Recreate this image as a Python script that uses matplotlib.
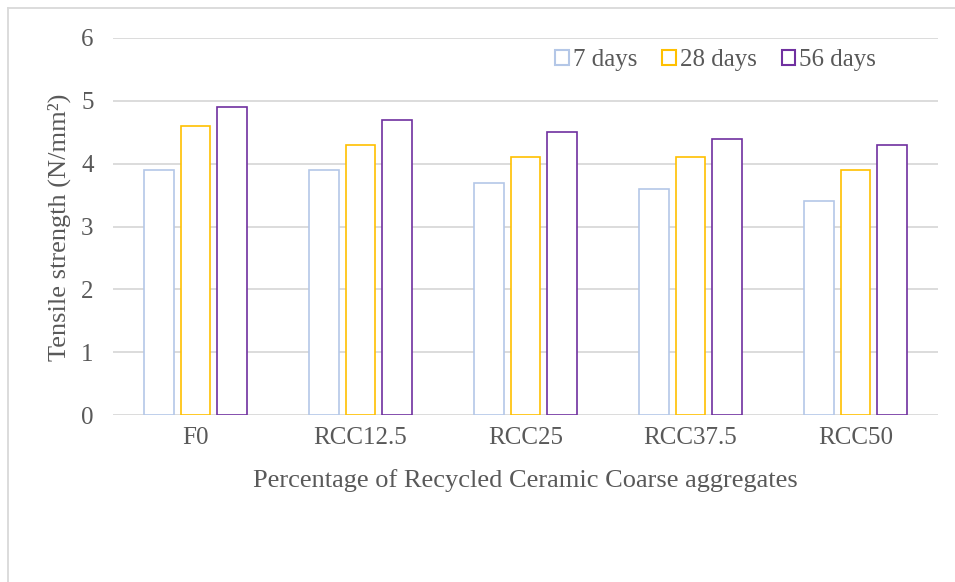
import numpy as np
import matplotlib
matplotlib.use('Agg')
import matplotlib.pyplot as plt
from matplotlib.lines import Line2D

# Chart data
categories = ['F0', 'RCC12.5', 'RCC25', 'RCC37.5', 'RCC50']
series_names = ['7 days', '28 days', '56 days']
days_7 = [3.9, 3.9, 3.7, 3.6, 3.4]
days_28 = [4.6, 4.3, 4.1, 4.1, 3.9]
days_56 = [4.9, 4.7, 4.5, 4.4, 4.3]
y_ticks = [0, 1, 2, 3, 4, 5, 6]

colors = ['#B4C7E7', '#FFC000', '#7030A0']
text_color = '#595959'
grid_color = '#D9D9D9'

plt.rcParams['font.family'] = ['Liberation Serif', 'DejaVu Serif']

fig = plt.figure(figsize=(9.55, 5.82), dpi=100)
ax = fig.add_axes([113 / 955, 1 - 415 / 582, 825 / 955, 377 / 582])

x = np.arange(len(categories))
width = 0.18
pitch = 0.221
for i, (vals, name, c) in enumerate(zip([days_7, days_28, days_56], series_names, colors)):
    ax.bar(x + (i - 1) * pitch, vals, width, facecolor='white', edgecolor=c,
           linewidth=1.2, label=name, zorder=3)

ax.set_xlim(-0.5, len(categories) - 0.5)
ax.set_ylim(0, 6)
ax.set_yticks(y_ticks)
ax.set_xticks(x)
ax.set_xticklabels(categories)
ax.tick_params(axis='both', length=0, labelsize=18, colors=text_color)
ax.tick_params(axis='y', pad=14)
ax.tick_params(axis='x', pad=9)
ax.yaxis.grid(True, color=grid_color, linewidth=1.3, zorder=0)
for s in ax.spines.values():
    s.set_visible(False)

fig.text(59 / 955, 1 - 227 / 582, 'Tensile strength (N/mm²)', rotation=90,
         ha='center', va='center', fontsize=19, color=text_color)
fig.text(525 / 955, 1 - 481 / 582, 'Percentage of Recycled Ceramic Coarse aggregates',
         ha='center', va='center', fontsize=19, color=text_color)

handles = [plt.Rectangle((0, 0), 1, 1, facecolor='white', edgecolor=c, linewidth=1.5)
           for c in colors]
ax.legend(handles, series_names, loc='upper right', bbox_to_anchor=(0.952, 1.03), ncol=3,
          frameon=False, fontsize=18, labelcolor=text_color, handlelength=0.55,
          handleheight=0.55, handletextpad=0.15, columnspacing=1.0)

# chart area border (left and top only visible)
fig.add_artist(Line2D([7.5 / 955, 7.5 / 955], [0, 1 - 7.5 / 582], color=grid_color,
                      linewidth=1.3, transform=fig.transFigure))
fig.add_artist(Line2D([7.5 / 955, 1], [1 - 7.5 / 582, 1 - 7.5 / 582], color=grid_color,
                      linewidth=1.3, transform=fig.transFigure))

fig.savefig('out.png', dpi=100, facecolor='white')
